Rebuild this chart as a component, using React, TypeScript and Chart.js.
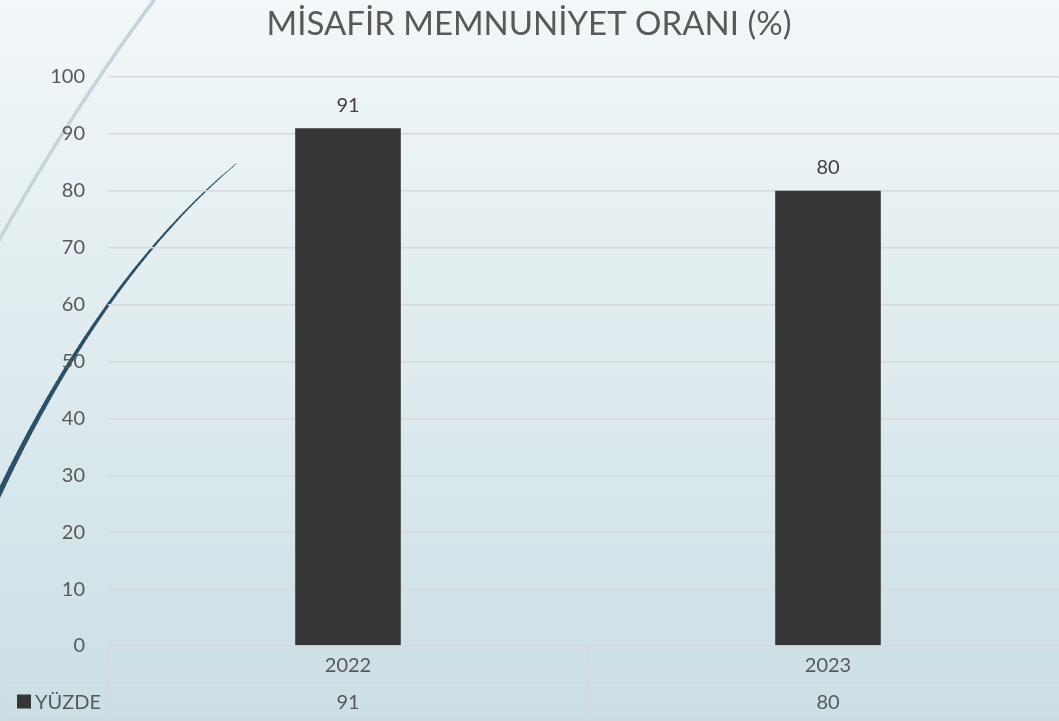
import React, { useEffect, useRef } from "react";
import { Chart, registerables } from "chart.js";

Chart.register(...registerables);

const TITLE = "MİSAFİR MEMNUNİYET ORANI (%)";
const categories = ["2022", "2023"];
const seriesName = "YÜZDE";
const values = [91, 80];
const yMin = 0;
const yMax = 100;
const yStep = 10;

const FONT = "Lato, 'Open Sans', sans-serif";
const TEXT = "#595959";
const GRID = "#d6d9db";
const BAR = "#363636";

const W = 1059;
const H = 721;
const CANVAS_W = 1072;

function quadPoint(p0: number[], c: number[], p2: number[], t: number) {
  const a = (1 - t) * (1 - t);
  const b = 2 * (1 - t) * t;
  const d = t * t;
  return [a * p0[0] + b * c[0] + d * p2[0], a * p0[1] + b * c[1] + d * p2[1]];
}

const decorPlugin = {
  id: "decor",
  beforeDraw(chart: any) {
    const ctx = chart.ctx as CanvasRenderingContext2D;
    const w = chart.width;
    const h = chart.height;
    ctx.save();
    const g = ctx.createLinearGradient(0, 0, 0, h);
    g.addColorStop(0, "#f2f7f9");
    g.addColorStop(1, "#cbdfe5");
    ctx.fillStyle = g;
    ctx.fillRect(0, 0, w, h);

    // light decorative curve
    ctx.beginPath();
    ctx.moveTo(160, -8);
    ctx.quadraticCurveTo(75, 105, -2, 242);
    ctx.strokeStyle = "#c5d4db";
    ctx.lineWidth = 3.5;
    ctx.stroke();

    // dark decorative curve, thickening downward
    const p0 = [236, 164];
    const c = [102, 276];
    const p2 = [-2, 496];
    const n = 80;
    ctx.strokeStyle = "#2b5168";
    ctx.lineCap = "round";
    for (let i = 0; i < n; i++) {
      const a = quadPoint(p0, c, p2, i / n);
      const b = quadPoint(p0, c, p2, (i + 1) / n);
      ctx.beginPath();
      ctx.moveTo(a[0], a[1]);
      ctx.lineTo(b[0], b[1]);
      ctx.lineWidth = 0.8 + 4.5 * (i / n);
      ctx.stroke();
    }

    // title
    ctx.fillStyle = TEXT;
    ctx.font = `33px ${FONT}`;
    ctx.textAlign = "center";
    ctx.textBaseline = "middle";
    ctx.fillText(TITLE, 529, 24);
    ctx.restore();
  },
  afterDraw(chart: any) {
    const ctx = chart.ctx as CanvasRenderingContext2D;
    const area = chart.chartArea;
    const xs = chart.scales.x;
    const meta = chart.getDatasetMeta(0);
    ctx.save();
    // data labels
    ctx.fillStyle = "#404040";
    ctx.font = `20px ${FONT}`;
    ctx.textAlign = "center";
    ctx.textBaseline = "middle";
    meta.data.forEach((bar: any, i: number) => {
      ctx.fillText(String(values[i]), bar.x, bar.y - 23);
    });

    // data table
    const top = area.bottom;
    const rowH = 37;
    const r1 = top + rowH;
    const r2 = r1 + rowH;
    const left = area.left;
    const legendLeft = 8;
    ctx.strokeStyle = GRID;
    ctx.lineWidth = 1.5;
    ctx.beginPath();
    ctx.moveTo(left, top);
    ctx.lineTo(chart.width, top);
    ctx.moveTo(legendLeft, r1);
    ctx.lineTo(chart.width, r1);
    ctx.moveTo(legendLeft, r2);
    ctx.lineTo(chart.width, r2);
    ctx.moveTo(left, top);
    ctx.lineTo(left, r2);
    ctx.moveTo(legendLeft, r1);
    ctx.lineTo(legendLeft, r2);
    for (let i = 1; i < categories.length; i++) {
      const xb = (xs.getPixelForValue(i - 1) + xs.getPixelForValue(i)) / 2;
      ctx.moveTo(xb, top);
      ctx.lineTo(xb, r2);
    }
    ctx.stroke();

    ctx.fillStyle = TEXT;
    categories.forEach((cat, i) => {
      const x = xs.getPixelForValue(i);
      ctx.fillText(cat, x, (top + r1) / 2 + 1);
      ctx.fillText(String(values[i]), x, (r1 + r2) / 2 + 1);
    });
    // legend key
    ctx.fillStyle = BAR;
    ctx.fillRect(17, (r1 + r2) / 2 - 7, 14, 14);
    ctx.fillStyle = TEXT;
    ctx.textAlign = "left";
    ctx.fillText(seriesName, 35, (r1 + r2) / 2 + 1);
    ctx.restore();
  },
};

export default function App() {
  const ref = useRef<HTMLCanvasElement | null>(null);
  useEffect(() => {
    document.body.style.margin = "0";
    document.body.style.overflow = "hidden";
    const canvas = ref.current!;
    const chart = new Chart(canvas, {
      type: "bar",
      data: {
        labels: categories,
        datasets: [
          {
            label: seriesName,
            data: values,
            backgroundColor: BAR,
            borderWidth: 0,
            categoryPercentage: 1,
            barPercentage: 0.22,
          },
        ],
      },
      options: {
        responsive: false,
        animation: false,
        layout: { padding: { top: 77, bottom: 75, left: 0, right: 4 } },
        plugins: {
          legend: { display: false },
          title: { display: false },
          tooltip: { enabled: false },
        },
        scales: {
          x: { display: false, offset: true },
          y: {
            min: yMin,
            max: yMax,
            ticks: {
              stepSize: yStep,
              padding: 23,
              color: TEXT,
              font: { family: FONT, size: 20 },
            },
            grid: { color: GRID, lineWidth: 1.5, drawTicks: false },
            border: { display: false },
            afterFit(scale: any) {
              scale.width = 108;
            },
          },
        },
      },
      plugins: [decorPlugin],
    });
    return () => chart.destroy();
  }, []);
  return (
    <div style={{ width: W, height: H, overflow: "hidden", position: "relative" }}>
      <canvas ref={ref} width={CANVAS_W} height={H} style={{ display: "block" }} />
    </div>
  );
}
